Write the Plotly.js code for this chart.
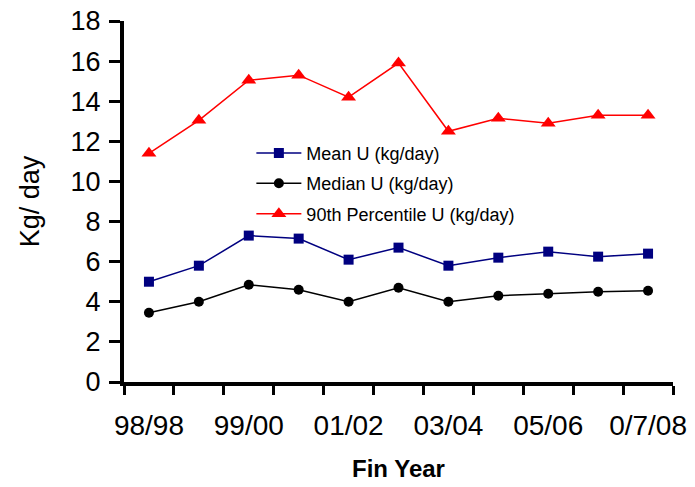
<!DOCTYPE html>
<html>
<head>
<meta charset="utf-8">
<script src="https://cdn.plot.ly/plotly-3.0.1.min.js"></script>
<style>html,body{margin:0;padding:0;background:#fff;}#chart{width:695px;height:487px;}</style>
</head>
<body>
<div id="chart"></div>
<script>
const years = ["98/98","98/99","99/00","00/01","01/02","02/03","03/04","04/05","05/06","06/07","0/7/08"];
const tickLabels = ["98/98","","99/00","","01/02","","03/04","","05/06","","0/7/08"];
const meanU = [5.0, 5.8, 7.3, 7.15, 6.1, 6.7, 5.8, 6.2, 6.5, 6.25, 6.4];
const medianU = [3.45, 4.0, 4.85, 4.6, 4.0, 4.7, 4.0, 4.3, 4.4, 4.5, 4.55];
const p90U = [11.4, 13.05, 15.05, 15.3, 14.2, 15.9, 12.5, 13.15, 12.9, 13.3, 13.3];
const yTicks = [0,2,4,6,8,10,12,14,16,18];

const traces = [
  {x: years, y: meanU, name: "Mean U (kg/day)", legendgroup: "a", type: "scatter", mode: "lines+markers",
   line: {color: "#000080", width: 1.5}, marker: {symbol: "square", size: 10, color: "#000080"}},
  {x: years, y: medianU, name: "Median U (kg/day)", legendgroup: "b", type: "scatter", mode: "lines+markers",
   line: {color: "#000000", width: 1.5}, marker: {symbol: "circle", size: 10, color: "#000000"}},
  {x: years, y: p90U, name: "90th Percentile U (kg/day)", legendgroup: "c", type: "scatter", mode: "lines+markers",
   line: {color: "#FF0000", width: 1.5}, marker: {symbol: "triangle-up", size: 13, color: "#FF0000"}}
];

const layout = {
  width: 695, height: 487,
  margin: {l: 124, r: 22, t: 21, b: 105},
  paper_bgcolor: "#fff", plot_bgcolor: "#fff",
  font: {family: "Liberation Sans, Arial, sans-serif", color: "#000"},
  showlegend: true,
  legend: {x: 0.232, y: 0.685, xanchor: "left", yanchor: "top", bgcolor: "rgba(0,0,0,0)",
           font: {size: 18, color: "#000"}, traceorder: "grouped", tracegroupgap: 4, itemwidth: 45},
  xaxis: {type: "category", categoryorder: "array", categoryarray: years,
          tickmode: "array", tickvals: years, ticktext: tickLabels, tickson: "boundaries",
          range: [-0.5, 10.5], showgrid: false, zeroline: false, tickangle: 0,
          showline: true, linecolor: "#000", linewidth: 4,
          ticks: "outside", ticklen: 9, tickwidth: 3, tickcolor: "#000", ticklabelstandoff: 15,
          tickfont: {size: 28, color: "#000"},
          title: {text: "<b>Fin Year</b>", font: {size: 24, color: "#000"}, standoff: 22}},
  yaxis: {range: [0, 18], tickmode: "array", tickvals: yTicks, showgrid: false, zeroline: false,
          showline: true, linecolor: "#000", linewidth: 4,
          ticks: "outside", ticklen: 11, tickwidth: 3, tickcolor: "#000", ticklabelstandoff: 3,
          tickfont: {size: 27, color: "#000"},
          title: {text: "Kg/ day", font: {size: 27, color: "#000"}, standoff: 24}}
};

Plotly.newPlot("chart", traces, layout, {displayModeBar: false, staticPlot: true});
</script>
</body>
</html>
